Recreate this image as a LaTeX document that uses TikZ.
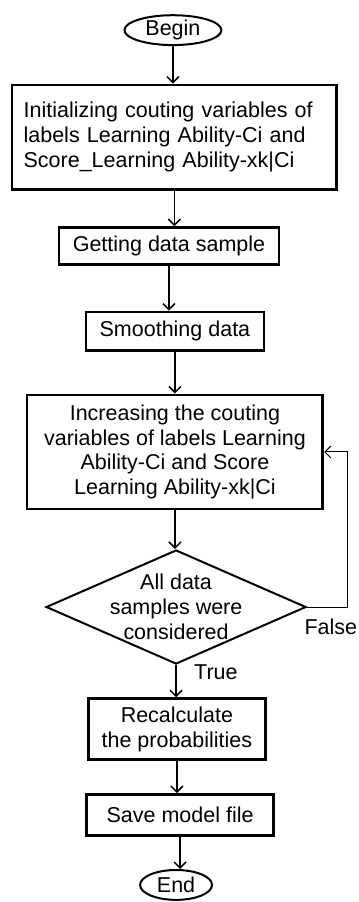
\documentclass[tikz,border=0pt]{standalone}
\usepackage{fontspec}
\setmainfont{Liberation Sans}
\usetikzlibrary{%
  arrows.meta,%
  shapes.geometric,% wg. ellipse, diamond
  positioning%
}

\begin{document}
\begin{tikzpicture}[
  font=\fontsize{21.5}{25}\selectfont, >={Straight Barb[length=6pt,width=12pt]}, line width=1.5pt,
  terminal/.style={ellipse, minimum height=1.05cm, inner sep=0pt, draw=black, line width=2pt},
  process/.style={rectangle, draw=black, line width=2.8pt, inner sep=0pt},
  decision/.style={diamond, aspect=2.28, inner sep=-6pt, minimum width=9.14cm, minimum height=4.01cm, draw=black, line width=2pt}
]
\useasboundingbox (0,0) rectangle (12.62,31.71);

\node[terminal, minimum width=3.41cm] (begin) at (6.08,30.65) {Begin};
\node[process, minimum width=11.42cm, minimum height=3.66cm, text width=10.6cm, align=left] (init) at (6.13,26.89)
  {Initializing couting variables of\\labels Learning Ability-Ci and\\Score\_Learning Ability-xk|Ci};
\node[process, minimum width=7.73cm, minimum height=1.30cm] (sample) at (5.94,23.06) {Getting data sample};
\node[process, minimum width=6.26cm, minimum height=1.34cm] (smooth) at (6.15,20.07) {Smoothing data};
\node[process, minimum width=10.40cm, minimum height=4.01cm, align=center] (count) at (6.15,15.82)
  {Increasing the couting\\variables of labels Learning\\Ability-Ci and Score\\Learning Ability-xk|Ci};
\node[decision, align=center] (check) at (6.19,10.37) {All data\\samples were\\considered};
\node[process, minimum width=6.22cm, minimum height=2.14cm, align=center] (recalc) at (6.22,6.08)
  {Recalculate\\the probabilities};
\node[process, minimum width=6.57cm, minimum height=1.44cm] (save) at (6.33,3.06) {Save model file~};
\node[terminal, minimum width=2.53cm] (end) at (6.19,0.60) {End};

\node (false) at (11.63,9.67) {False};
\node (true) at (7.59,8.08) {True};
\coordinate (loop) at (12.20,10.37);

% main flow
\draw[->] (begin) -- (begin |- init.north);
\draw[->] (init) -- (init |- sample.north);
\draw[->] (sample) -- (sample |- smooth.north);
\draw[->] (smooth) -- (smooth |- count.north);
\draw[->] (count) -- (count |- check.north);
\draw[->] (check) -- (check |- recalc.north);
\draw[->] (recalc) -- (recalc |- save.north);
\draw[->] (save) -- (save |- end.north);

% back to counting
\draw[->, line width=1pt] (check.east) -- (loop) |- (count.east);
\end{tikzpicture}
\end{document}
